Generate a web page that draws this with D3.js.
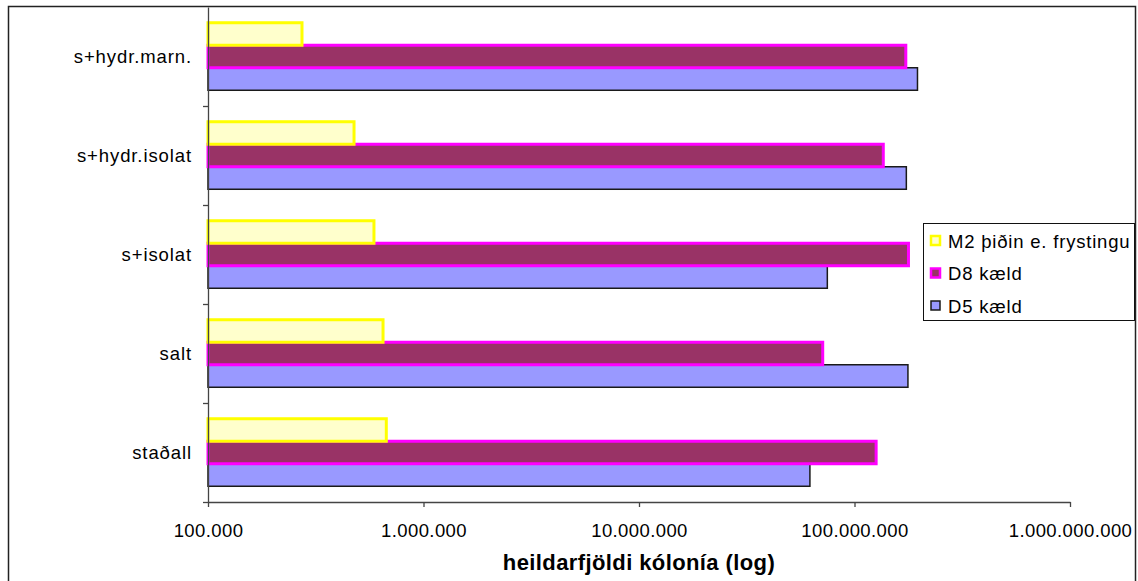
<!DOCTYPE html>
<html>
<head>
<meta charset="utf-8">
<script src="https://cdn.jsdelivr.net/npm/d3@7/dist/d3.min.js"></script>
<style>
  html, body { margin: 0; padding: 0; background: #fff; }
  svg { display: block; font-family: "Liberation Sans", Arial, sans-serif; }
</style>
</head>
<body>
<svg id="chart" width="1138" height="581"></svg>
<script>
// ---- data ----
const categories = ["s+hydr.marn.", "s+hydr.isolat", "s+isolat", "salt", "staðall"];
const seriesNames = ["M2 þiðin e. frystingu", "D8 kæld", "D5 kæld"];
const m2Values = [2.73e5, 4.76e5, 5.89e5, 6.49e5, 6.72e5];
const d8Values = [1.73e8, 1.36e8, 1.78e8, 7.12e7, 1.26e8];
const d5Values = [1.96e8, 1.74e8, 7.48e7, 1.77e8, 6.21e7];
const xTickValues = [1e5, 1e6, 1e7, 1e8, 1e9];
const xTickLabels = ["100.000", "1.000.000", "10.000.000", "100.000.000", "1.000.000.000"];
const axisTitle = "heildarfjöldi kólonía (log)";

// ---- styles ----
const fills = ["#FFFFCC", "#993366", "#9999FF"];
const strokes = ["#FFFF00", "#FF00FF", "#1a1a1a"];
const strokeWidths = [3, 3, 1.5];

const svg = d3.select("#chart");

// outer chart border
svg.append("rect")
  .attr("x", 8.5).attr("y", 6.5)
  .attr("width", 1127).attr("height", 590)
  .attr("fill", "#fff").attr("stroke", "#222").attr("stroke-width", 1.5);

const plot = { left: 208, right: 1070, top: 7, bottom: 502 };

const x = d3.scaleLog().domain([1e5, 1e9]).range([plot.left, plot.right]);
const y0 = d3.scaleBand().domain(categories).range([plot.top, plot.bottom])
  .paddingInner(0.318).paddingOuter(0.159);
const y1 = d3.scaleBand().domain(seriesNames).range([0, y0.bandwidth()]);

const seriesValues = [m2Values, d8Values, d5Values];
const rows = [];
seriesNames.forEach((s, si) => {
  categories.forEach((c, ci) => rows.push({ s, si, c, v: seriesValues[si][ci] }));
});

// draw D5 first, then D8, then M2 (so thicker borders sit on top)
const order = [2, 1, 0];
order.forEach(si => {
  svg.append("g").selectAll("rect")
    .data(rows.filter(d => d.si === si))
    .join("rect")
    .attr("x", x(1e5))
    .attr("y", d => y0(d.c) + y1(d.s))
    .attr("width", d => x(d.v) - x(1e5))
    .attr("height", y1.bandwidth())
    .attr("fill", fills[si])
    .attr("stroke", strokes[si])
    .attr("stroke-width", strokeWidths[si]);
});

// x axis
const xAxis = d3.axisBottom(x)
  .tickValues(xTickValues)
  .tickFormat((d, i) => xTickLabels[i])
  .tickSize(5)
  .tickSizeOuter(0);
const gx = svg.append("g")
  .attr("transform", `translate(0,${plot.bottom})`)
  .call(xAxis);
gx.select(".domain").attr("stroke", "#444").attr("stroke-width", 1.3);
gx.selectAll(".tick line").attr("stroke", "#444").attr("stroke-width", 1.3);
gx.selectAll(".tick text")
  .attr("y", 35).attr("dy", 0)
  .attr("fill", "#000")
  .style("font-size", "18.5px")
  .style("letter-spacing", "0.4px")
  .style("font-family", '"Liberation Sans", Arial, sans-serif');

// y axis line with ticks at band boundaries
const yAxisScale = d3.scaleLinear().domain([0, categories.length]).range([plot.top, plot.bottom]);
const yAxis = d3.axisLeft(yAxisScale)
  .tickValues(d3.range(1, categories.length + 1))
  .tickFormat("")
  .tickSize(5)
  .tickSizeOuter(0);
const gy = svg.append("g")
  .attr("transform", `translate(${plot.left},0)`)
  .call(yAxis);
gy.select(".domain").attr("stroke", "#444").attr("stroke-width", 1.3);
gy.selectAll(".tick line").attr("stroke", "#444").attr("stroke-width", 1.3);

// category labels
svg.append("g").selectAll("text")
  .data(categories)
  .join("text")
  .attr("x", 192)
  .attr("y", d => y0(d) + y0.bandwidth() / 2)
  .attr("dy", "0.36em")
  .attr("text-anchor", "end")
  .style("font-size", "18.5px")
  .style("letter-spacing", "0.9px")
  .attr("fill", "#000")
  .text(d => d);

// axis title
svg.append("text")
  .attr("x", (plot.left + plot.right) / 2)
  .attr("y", 570)
  .attr("text-anchor", "middle")
  .style("font-size", "22px")
  .style("font-weight", "bold")
  .style("letter-spacing", "0.4px")
  .attr("fill", "#000")
  .text(axisTitle);

// legend
const legend = svg.append("g");
legend.append("rect")
  .attr("x", 923.5).attr("y", 223.5)
  .attr("width", 211).attr("height", 97)
  .attr("fill", "#fff").attr("stroke", "#111").attr("stroke-width", 1);
const legendRowY = d3.scalePoint().domain(seriesNames).range([241, 306]);
const items = legend.selectAll("g.item")
  .data(seriesNames)
  .join("g")
  .attr("class", "item")
  .attr("transform", d => `translate(0,${legendRowY(d)})`);
items.append("rect")
  .attr("x", 931).attr("y", -5)
  .attr("width", 9).attr("height", 9)
  .attr("fill", (d, i) => fills[i])
  .attr("stroke", (d, i) => strokes[i])
  .attr("stroke-width", (d, i) => i === 2 ? 1.5 : 2.5);
items.append("text")
  .attr("x", 948)
  .attr("y", 0)
  .attr("dy", "0.36em")
  .style("font-size", "18.5px")
  .style("letter-spacing", "0.8px")
  .attr("fill", "#000")
  .text(d => d);
</script>
</body>
</html>
